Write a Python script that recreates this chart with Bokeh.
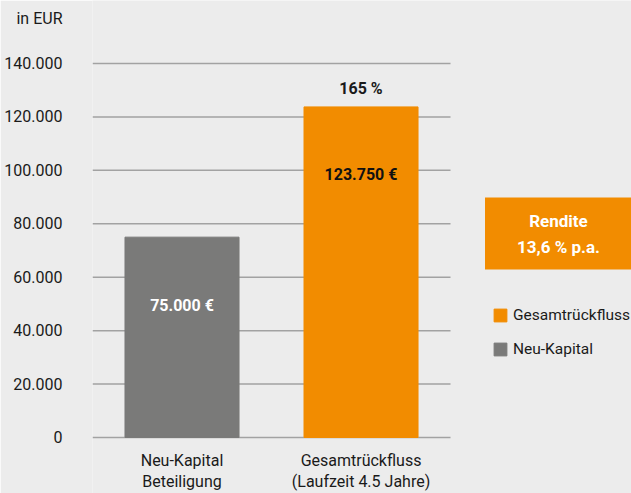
from bokeh.plotting import figure
from bokeh.models import (ColumnDataSource, FixedTicker, Label, Legend, LegendItem, Range1d)
from bokeh.core.properties import value
from bokeh.embed import file_html
from bokeh.resources import INLINE

# ---- data ----
categories = ["Neu-Kapital", "Gesamtrückfluss"]
category_line1 = ["Neu-Kapital", "Gesamtrückfluss"]
category_line2 = ["Beteiligung", "(Laufzeit 4.5 Jahre)"]
values = [75000, 123750]
value_labels = ["75.000 €", "123.750 €"]
bar_colors = ["#7a7a79", "#f28c00"]
value_label_colors = ["#ffffff", "#111111"]
pct_index = [1]
pct_labels = ["165 %"]
y_ticks = [0, 20000, 40000, 60000, 80000, 100000, 120000, 140000]
y_tick_labels = ["0", "20.000", "40.000", "60.000", "80.000", "100.000", "120.000", "140.000"]
unit_label = "in EUR"
rendite_text = "Rendite\n13,6 % p.a."
legend_order = [1, 0]

# ---- style / layout ----
FONT = "Roboto"
BG = "#ececec"
ORANGE = "#f28c00"
TXT = "#1a1a1a"
GRID = "#a2a2a2"
UNIT_LABEL_POS = 156845      # axis position of the unit caption above the top tick

x_pos = [i + 0.5 for i in range(len(categories))]
src = ColumnDataSource(dict(x=x_pos, val=values, lab=value_labels, color=bar_colors,
                            lcolor=value_label_colors, l1=category_line1, l2=category_line2,
                            zero=[0] * len(categories)))
pct_src = ColumnDataSource(dict(x=[x_pos[i] for i in pct_index],
                                val=[values[i] for i in pct_index], lab=pct_labels))
grid_src = ColumnDataSource(dict(x0=[0] * len(y_ticks), x1=[len(categories)] * len(y_ticks),
                                 y=y_ticks))

p = figure(width=631, height=493, x_range=Range1d(0, 3.011),
           y_range=Range1d(-20963, 163583), output_backend="svg", toolbar_location=None,
           min_border_left=92, min_border_right=0, min_border_top=0, min_border_bottom=0)
p.background_fill_color = BG
p.border_fill_color = BG
p.outline_line_color = None
p.grid.visible = False
p.xaxis.visible = False

# grid lines spanning the category area
p.segment(x0="x0", x1="x1", y0="y", y1="y", source=grid_src,
          line_color=GRID, line_width=1.5)

r = p.vbar(x="x", top="val", width=0.637, color="color", source=src)

p.text(x="x", y="val", text="lab", text_color="lcolor", source=src,
       text_font=value(FONT), text_font_style="bold", text_font_size="16px",
       text_align="center", text_baseline="middle", y_offset=68)
p.text(x="x", y="val", text="lab", source=pct_src, text_color=TXT,
       text_font=value(FONT), text_font_style="bold", text_font_size="16px",
       text_align="center", text_baseline="middle", y_offset=-18)

# category labels
for col, off in (("l1", 23), ("l2", 44)):
    p.text(x="x", y="zero", text=col, source=src, text_color=TXT,
           text_font=value(FONT), text_font_size="16px",
           text_align="center", text_baseline="middle", y_offset=off)

# y axis
yax = p.yaxis[0]
yax.ticker = FixedTicker(ticks=y_ticks + [UNIT_LABEL_POS])
overrides = {t: l for t, l in zip(y_ticks, y_tick_labels)}
overrides[UNIT_LABEL_POS] = unit_label
yax.major_label_overrides = overrides
yax.axis_line_color = None
yax.major_tick_line_color = None
yax.minor_tick_line_color = None
yax.major_label_standoff = 24
yax.major_label_text_font = FONT
yax.major_label_text_font_size = "16px"
yax.major_label_text_color = TXT

# Rendite box
p.add_layout(Label(x=466, y=260, x_units="screen", y_units="screen", text=rendite_text,
                   text_font=FONT, text_font_size="17px", text_font_style="bold",
                   text_color="#ffffff", text_align="center", text_baseline="middle",
                   text_line_height=1.3, background_fill_color=ORANGE,
                   padding=dict(left=32, right=32, top=13, bottom=13)))

# legend
items = [LegendItem(label=categories[i], renderers=[r], index=i) for i in legend_order]
leg = Legend(items=items, location=(400, 135), orientation="vertical",
             glyph_width=16, glyph_height=16, label_height=16, label_standoff=5,
             spacing=16, padding=0, margin=0, border_line_color=None,
             background_fill_alpha=0, label_text_font=FONT, label_text_font_size="15.5px",
             label_text_color=TXT)
p.add_layout(leg, "center")

open("out.html", "w").write(file_html(p, INLINE))
